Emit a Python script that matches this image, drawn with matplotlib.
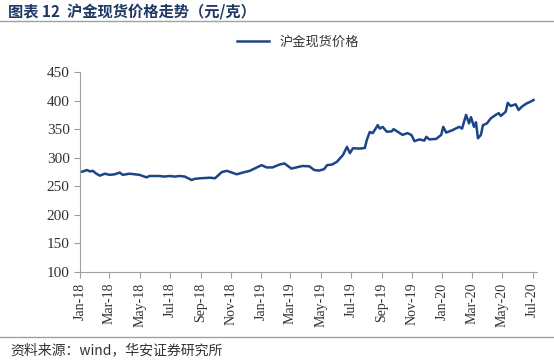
import matplotlib
matplotlib.use("Agg")
import matplotlib.pyplot as plt
import matplotlib.dates as mdates
import pandas as pd

plt.rcParams['font.family'] = ['Liberation Serif', 'Noto Sans CJK SC']

# 沪金现货价格 (元/克)
dates = [
    "2018-01-01", "2018-01-07", "2018-01-15", "2018-01-21", "2018-01-27", "2018-02-03",
    "2018-02-10", "2018-02-20", "2018-03-02", "2018-03-12", "2018-03-22", "2018-03-28",
    "2018-04-11", "2018-04-21", "2018-05-01", "2018-05-15", "2018-05-21", "2018-06-10",
    "2018-06-20", "2018-07-01", "2018-07-11", "2018-07-21", "2018-07-31", "2018-08-14",
    "2018-08-20", "2018-08-31", "2018-09-20", "2018-09-30", "2018-10-14", "2018-10-24",
    "2018-11-03", "2018-11-13", "2018-11-25", "2018-12-09", "2018-12-21", "2019-01-02",
    "2019-01-12", "2019-01-24", "2019-02-07", "2019-02-17", "2019-03-03", "2019-03-13",
    "2019-03-25", "2019-04-08", "2019-04-18", "2019-04-28", "2019-05-08", "2019-05-14",
    "2019-05-24", "2019-06-03", "2019-06-09", "2019-06-15", "2019-06-23", "2019-06-29",
    "2019-07-05", "2019-07-19", "2019-07-29", "2019-08-02", "2019-08-08", "2019-08-14",
    "2019-08-24", "2019-08-28", "2019-09-03", "2019-09-11", "2019-09-21", "2019-09-25",
    "2019-10-03", "2019-10-13", "2019-10-23", "2019-10-31", "2019-11-06", "2019-11-16",
    "2019-11-26", "2019-11-30", "2019-12-06", "2019-12-20", "2019-12-30", "2020-01-03",
    "2020-01-09", "2020-01-21", "2020-02-04", "2020-02-10", "2020-02-18", "2020-02-24",
    "2020-02-28", "2020-03-05", "2020-03-09", "2020-03-13", "2020-03-19", "2020-03-23",
    "2020-03-31", "2020-04-08", "2020-04-18", "2020-04-24", "2020-04-28", "2020-05-08",
    "2020-05-12", "2020-05-18", "2020-05-28", "2020-06-03", "2020-06-09", "2020-06-19",
    "2020-06-27", "2020-07-03",
]
prices = [
    275, 276, 278.5, 276, 277, 272,
    268.6, 272, 270, 271, 274, 270,
    272, 271, 270, 265.6, 268, 268,
    267, 268, 267, 268, 267, 261,
    263, 264, 265, 264, 275, 277,
    274, 271, 274, 277, 282, 287,
    283, 283, 288, 290, 281, 283,
    285.5, 285, 278.5, 277.5, 280, 287,
    288, 293, 299, 304.7, 319, 308,
    316.5, 316, 317, 331, 345, 343,
    357, 351, 354, 345.6, 346, 350,
    345.6, 340, 343, 339.7, 329, 332,
    330, 336.6, 332, 333, 340, 354,
    344, 348, 354, 351, 375, 360,
    371, 354, 362, 334, 340, 357,
    360, 369, 375, 378, 373, 380.6,
    396, 390.5, 393.5, 383.5, 389, 395,
    398, 401,
]
yticks = [100, 150, 200, 250, 300, 350, 400, 450]

x = pd.to_datetime(dates)

fig = plt.figure(figsize=(5.54, 3.61), dpi=100)
ax = fig.add_axes([80 / 554, 89 / 361, 457 / 554, 200 / 361])

navy = "#1C4587"
ax.plot(x, prices, color=navy, linewidth=1.8, label="沪金现货价格")

ax.set_ylim(100, 450)
ax.set_yticks(yticks)
ax.set_xlim(pd.Timestamp("2018-01-01"), pd.Timestamp("2020-07-10"))
ax.xaxis.set_major_locator(mdates.MonthLocator(bymonth=[1, 3, 5, 7, 9, 11]))
ax.xaxis.set_major_formatter(mdates.DateFormatter("%b-%y"))
plt.setp(ax.get_xticklabels(), rotation=90)

for s in ("top", "right"):
    ax.spines[s].set_visible(False)
for s in ("left", "bottom"):
    ax.spines[s].set_color("#A0A0A0")
    ax.spines[s].set_linewidth(0.8)
ax.tick_params(colors="#A0A0A0", labelcolor="#333333", labelsize=10, length=4, width=0.8)
ax.tick_params(axis="y", labelsize=11)

leg = ax.legend(loc="upper center", bbox_to_anchor=(0.477, 1.24), frameon=False,
                handlelength=2.4, prop={"family": ["Noto Sans CJK SC"], "size": 9.5})
for t in leg.get_texts():
    t.set_color("#333333")

# header / footer
fig.text(8 / 554, 1 - 12 / 361, "图表 12  沪金现货价格走势（元/克）", fontsize=11,
         fontweight="bold", color="#1F3864", va="center",
         family=["Noto Sans CJK SC"])
fig.add_artist(plt.Line2D([0, 1], [1 - 21 / 361, 1 - 21 / 361], color="#A0A0A0", linewidth=1))
fig.add_artist(plt.Line2D([0, 1], [1 - 337 / 361, 1 - 337 / 361], color="#A0A0A0", linewidth=1))
fig.text(10 / 554, 1 - 350 / 361, "资料来源：wind，华安证券研究所", fontsize=10,
         color="#333333", va="center", family=["Noto Sans CJK SC"])

fig.savefig("out.png", dpi=100, facecolor="white")
